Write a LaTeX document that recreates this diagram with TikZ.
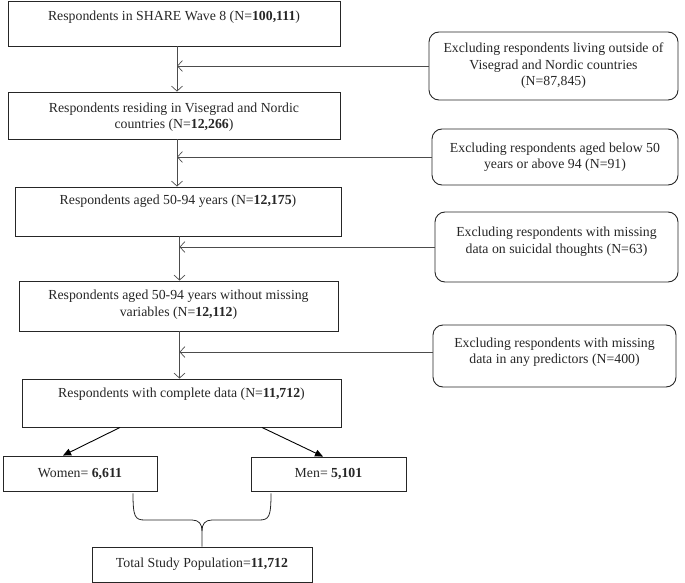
\documentclass[tikz,border=0pt]{standalone}
\usepackage{fontspec}
\setmainfont{Liberation Serif}
\usetikzlibrary{arrows.meta}
\begin{document}
\begin{tikzpicture}[x=1pt,y=-1pt,
  box/.style={draw=black!85, line width=0.9pt, inner sep=0pt},
  exbox/.style={draw=black!85, line width=0.9pt, rounded corners=10pt, inner sep=0pt},
  txt/.style={align=center, font=\fontsize{13.8}{16.5}\selectfont, inner sep=0pt, text=black!85},
  flow/.style={draw=black!70, line width=0.7pt, -{Straight Barb[length=5pt,width=11pt]}},
  feed/.style={draw=black!70, line width=0.7pt},
  split/.style={draw=black, line width=0.9pt, -{Triangle[length=8pt,width=7pt]}},
  brace/.style={draw=black!85, line width=0.8pt}]
\useasboundingbox (0,0) rectangle (685,583);

% main boxes
\node[box, minimum width=332pt, minimum height=45pt] (b1) at (174,23.5) {};
\node[txt] (t1) at (174,17) {Respondents in SHARE Wave 8 (N=\textbf{100,111})};
\node[box, minimum width=332pt, minimum height=47pt] (b2) at (174,115.5) {};
\node[txt] (t2) at (174,117) {Respondents residing in Visegrad and Nordic\\countries (N=\textbf{12,266})};
\node[box, minimum width=326pt, minimum height=49pt] (b3) at (178,211.5) {};
\node[txt] (t3) at (178,201) {Respondents aged 50-94 years (N=\textbf{12,175})};
\node[box, minimum width=319pt, minimum height=50pt] (b4) at (178.5,306) {};
\node[txt] (t4) at (178.5,304.5) {Respondents aged 50-94 years without missing\\variables (N=\textbf{12,112})};
\node[box, minimum width=319pt, minimum height=48pt] (b5) at (181.5,403) {};
\node[txt] (t5) at (181.5,394) {Respondents with complete data (N=\textbf{11,712})};

\node[box, txt, draw=black!85, minimum width=154pt, minimum height=35pt] (w) at (80,473.5) {Women= \textbf{6,611}};
\node[box, txt, draw=black!85, minimum width=155pt, minimum height=34pt] (m) at (328.5,474) {Men= \textbf{5,101}};
\node[box, txt, draw=black!85, minimum width=220pt, minimum height=35pt] (tot) at (202,564.5) {Total Study Population=\textbf{11,712}};

% exclusion boxes
\node[exbox, txt, draw=black!85, minimum width=249pt, minimum height=68pt] (e1) at (553.5,66) {Excluding respondents living outside of\\Visegrad and Nordic countries\\(N=87,845)};
\node[exbox, txt, draw=black!85, minimum width=246pt, minimum height=56pt] (e2) at (555,157) {Excluding respondents aged below 50\\years or above 94 (N=91)};
\node[exbox, minimum width=243pt, minimum height=70pt] (e3) at (556.5,247) {};
\node[txt] (t6) at (556.5,241.5) {Excluding respondents with missing\\data on suicidal thoughts (N=63)};
\node[exbox, minimum width=243pt, minimum height=62pt] (e4) at (554.5,356) {};
\node[txt] (t7) at (554.5,352) {Excluding respondents with missing\\data in any predictors (N=400)};

% vertical spine coordinates
\coordinate (c1) at (177,0);
\coordinate (c2) at (179.5,0);

\draw[flow] (b1.south -| c1) -- (b2.north -| c1);
\draw[flow] (b2.south -| c1) -- (b3.north -| c1);
\draw[flow] (b3.south -| c2) -- (b4.north -| c2);
\draw[flow] (b4.south -| c2) -- (b5.north -| c2);

\draw[flow] (e1.west) -- (e1.west -| c1);
\draw[flow] (e2.west) -- (e2.west -| c1);
\draw[flow] (e3.west) -- (e3.west -| c2);
\draw[flow] ([yshift=4pt]e4.west) -- ([yshift=4pt]e4.west -| c2);

% split arrows
\draw[split] ([xshift=-61.5pt]b5.south) -- ([xshift=-17pt]w.north);
\draw[split] ([xshift=80.5pt]b5.south) -- ([xshift=-5.5pt]m.north);

% brace
\coordinate (wb) at ([xshift=53pt,yshift=-2pt]w.south);
\coordinate (mb) at ([xshift=-57.5pt,yshift=-2pt]m.south);
\draw[brace] (wb) .. controls (133,517) and (135,520) .. (145,520) -- (192,520)
  .. controls (199,520) and (202,524) .. (202,531) -- (tot.north);
\draw[brace] (mb) .. controls (271,517) and (269,520) .. (259,520) -- (212,520)
  .. controls (205,520) and (202,524) .. (202,531);
\end{tikzpicture}
\end{document}
